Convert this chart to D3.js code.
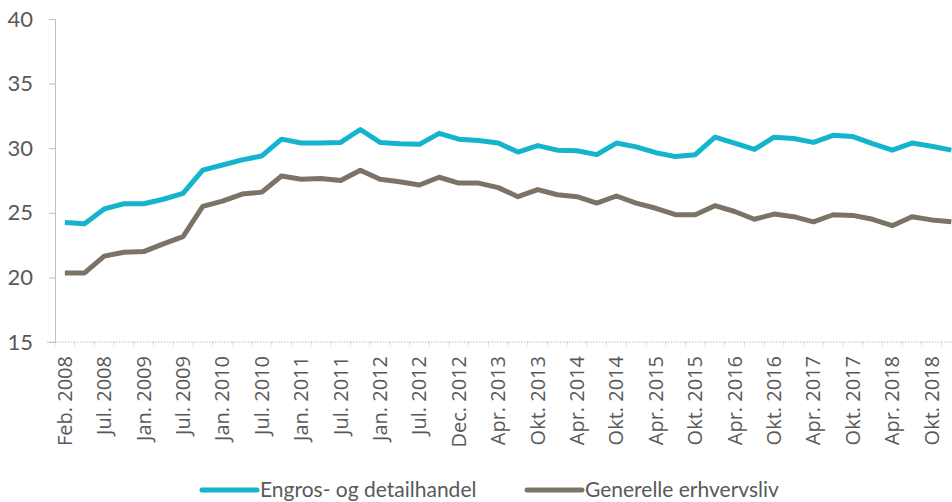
<!DOCTYPE html>
<meta charset="utf-8">
<style>
	body { margin: 0; background: #fff; }
	.line { fill: none; stroke-width: 5px; stroke-linejoin: round; }
	.axis text { fill: #595959; }
</style>
<svg id="chart" width="952" height="502"></svg>
<script src="https://d3js.org/d3.v7.min.js"></script>
<script>
	// tick labels, one for every second point
	var tickLabels = ["Feb. 2008", "Jul. 2008", "Jan. 2009", "Jul. 2009", "Jan. 2010", "Jul. 2010",
		"Jan. 2011", "Jul. 2011", "Jan. 2012", "Jul. 2012", "Dec. 2012", "Apr. 2013", "Okt. 2013",
		"Apr. 2014", "Okt. 2014", "Apr. 2015", "Okt. 2015", "Apr. 2016", "Okt. 2016", "Apr. 2017",
		"Okt. 2017", "Apr. 2018", "Okt. 2018"];

	var seriesNames = ["Engros- og detailhandel", "Generelle erhvervsliv"];
	var seriesColors = ["#14b4cc", "#7b7366"];

	var engros = [24.25, 24.15, 25.3, 25.7, 25.7, 26.05, 26.5, 28.3, 28.7, 29.1, 29.4, 30.7, 30.4, 30.4, 30.45,
		31.45, 30.45, 30.35, 30.3, 31.15, 30.7, 30.6, 30.4, 29.7, 30.2, 29.85, 29.8, 29.5, 30.4, 30.1,
		29.65, 29.35, 29.5, 30.85, 30.4, 29.9, 30.85, 30.75, 30.45, 31.0, 30.9, 30.35, 29.85, 30.4, 30.15, 29.85];
	var generelle = [20.35, 20.35, 21.65, 21.95, 22.0, 22.6, 23.15, 25.5, 25.9, 26.45, 26.6, 27.85, 27.6, 27.65, 27.5,
		28.3, 27.6, 27.4, 27.15, 27.75, 27.3, 27.3, 26.95, 26.25, 26.8, 26.4, 26.25, 25.75, 26.3, 25.75,
		25.35, 24.85, 24.85, 25.55, 25.1, 24.5, 24.9, 24.7, 24.3, 24.85, 24.8, 24.5, 24.0, 24.7, 24.45, 24.3];

	var yTicks = [15, 20, 25, 30, 35, 40];

	var svg = d3.select("#chart");
	var plotLeft = 55, plotTop = 19, plotBottom = 342, step = 19.7;
	var n = engros.length;

	var x = d3.scaleBand().domain(d3.range(n)).range([plotLeft, plotLeft + n * step]);
	var y = d3.scaleLinear().domain([15, 40]).range([plotBottom, plotTop]);

	// y axis
	var yAxis = svg.append("g")
		.attr("class", "axis axis--y")
		.attr("transform", "translate(" + plotLeft + ",0)")
		.call(d3.axisLeft(y).tickValues(yTicks).tickSize(6).tickPadding(16));
	yAxis.select(".domain").attr("stroke", "#bfbfbf");
	yAxis.selectAll(".tick line").attr("stroke", "#bfbfbf");
	yAxis.selectAll("text").style("font", "22px Lato");

	// x axis, dotted
	var xAxis = svg.append("g")
		.attr("class", "axis axis--x")
		.attr("transform", "translate(0," + plotBottom + ")");
	xAxis.append("line")
		.attr("x1", plotLeft - 8).attr("x2", plotLeft + n * step)
		.attr("stroke", "#bfbfbf").attr("stroke-width", 1.2).attr("stroke-dasharray", "1.5,1.5");
	xAxis.selectAll(".tk")
		.data(d3.range(n + 1))
		.enter().append("line")
		.attr("x1", function(i) { return plotLeft + i * step; })
		.attr("x2", function(i) { return plotLeft + i * step; })
		.attr("y1", 0).attr("y2", 4)
		.attr("stroke", "#bfbfbf").attr("stroke-dasharray", "1.5,1.5");
	xAxis.selectAll(".lbl")
		.data(tickLabels)
		.enter().append("text")
		.attr("transform", function(d, i) { return "translate(" + (x(i * 2) + x.bandwidth() / 2 + 7) + ",14) rotate(-90)"; })
		.attr("text-anchor", "end")
		.style("font-family", "'Open Sans', sans-serif")
		.style("font-size", "20px")
		.text(function(d) { return d; });

	// lines
	var line = d3.line()
		.x(function(d, i) { return x(i) + x.bandwidth() / 2; })
		.y(function(d) { return y(d); });

	svg.selectAll(".line")
		.data([engros, generelle])
		.enter().append("path")
		.attr("class", "line")
		.attr("d", line)
		.style("stroke", function(d, i) { return seriesColors[i]; });

	// legend
	var legendX = [202, 527];
	var legend = svg.selectAll(".legend")
		.data(seriesNames)
		.enter().append("g")
		.attr("transform", function(d, i) { return "translate(" + legendX[i] + ",490)"; });
	legend.append("line")
		.attr("x1", 0).attr("x2", 55)
		.attr("stroke-width", 5).attr("stroke-linecap", "round")
		.attr("stroke", function(d, i) { return seriesColors[i]; });
	legend.append("text")
		.attr("x", 58).attr("dy", "0.35em")
		.style("font", "21px Lato").attr("fill", "#595959")
		.text(function(d) { return d; });
</script>
